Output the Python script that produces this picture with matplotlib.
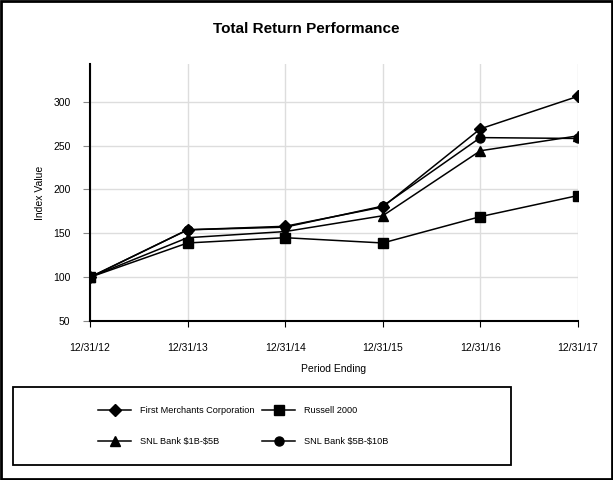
import matplotlib.pyplot as plt
from matplotlib.patches import Rectangle

plt.rcParams['font.family'] = ['Liberation Sans', 'DejaVu Sans']

periods = ['12/31/12', '12/31/13', '12/31/14', '12/31/15', '12/31/16', '12/31/17']
first_merchants = [100, 154, 158, 180, 269, 306]
russell_2000 = [100, 139, 145, 139, 169, 193]
snl_1b_5b = [100, 145, 152, 170, 244, 261]
snl_5b_10b = [100, 154, 157, 181, 259, 258]

fig = plt.figure(figsize=(6.13, 4.8), dpi=100)
ax = fig.add_axes([0.1468, 0.331, 0.796, 0.536])

x = list(range(len(periods)))
h1, = ax.plot(x, first_merchants, color='black', lw=1.1, marker='D', ms=6.5, label='First Merchants Corporation')
h2, = ax.plot(x, russell_2000, color='black', lw=1.1, marker='s', ms=6.5, label='Russell 2000')
h3, = ax.plot(x, snl_1b_5b, color='black', lw=1.1, marker='^', ms=6.5, label='SNL Bank \\$1B-\\$5B')
h4, = ax.plot(x, snl_5b_10b, color='black', lw=1.1, marker='o', ms=6.5, label='SNL Bank \\$5B-\\$10B')

ax.set_xlim(0, 5)
ax.set_ylim(50, 343)
ax.set_xticks(x)
ax.set_xticklabels(periods, fontsize=7.5)
ax.set_yticks([50, 100, 150, 200, 250, 300])
ax.tick_params(axis='y', labelsize=7.5, length=5, pad=9, color='#888888')
ax.tick_params(axis='x', length=4, pad=12)
ax.grid(True, color='#dddddd', lw=1)
ax.set_axisbelow(True)
for s in ['top', 'right']:
    ax.spines[s].set_visible(False)
ax.spines['left'].set_linewidth(1.5)
ax.spines['bottom'].set_linewidth(1.5)

ax.set_xlabel('Period Ending', fontsize=7.5, labelpad=8)
ax.set_ylabel('Index Value', fontsize=7.5)
ax.yaxis.set_label_coords(-45 / 488, 0.5)
fig.text(0.5, 0.94, 'Total Return Performance', ha='center', va='center',
         fontsize=11, fontweight='bold')

# legend box
fig.patches.append(Rectangle((13 / 613, 1 - 465 / 480), 498 / 613, 78 / 480,
                             transform=fig.transFigure, fill=False, ec='black', lw=1.3))
leg_kw = dict(loc='center left', frameon=False, fontsize=6.6, handlelength=3.6,
              labelspacing=2.4, handletextpad=0.95, borderpad=0, borderaxespad=0)
fig.legend(handles=[h1, h3], bbox_to_anchor=(98 / 613, 1 - 426 / 480), **leg_kw)
fig.legend(handles=[h2, h4], bbox_to_anchor=(262 / 613, 1 - 426 / 480), **leg_kw)

# outer border
fig.patches.append(Rectangle((0.002, 0.002), 0.996, 0.996, transform=fig.transFigure,
                             fill=False, ec='black', lw=2))

fig.savefig('out.png', dpi=100)
